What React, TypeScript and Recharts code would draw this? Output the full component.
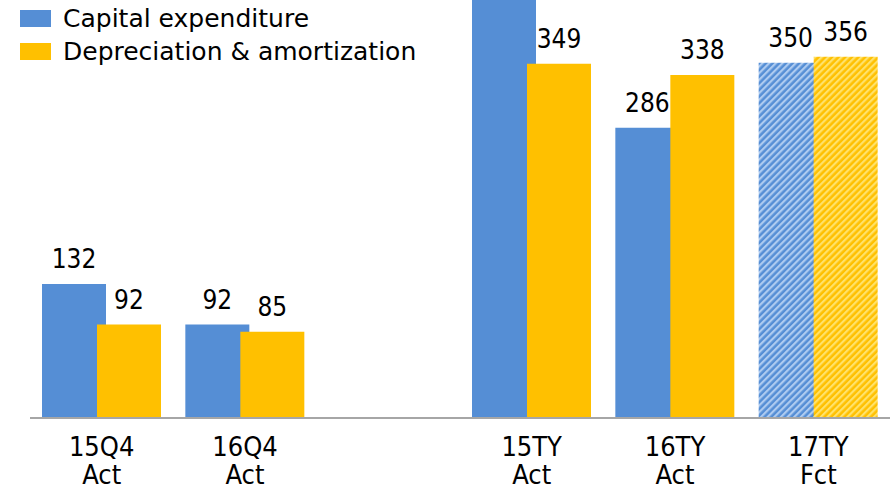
import { Bar, BarChart, Cell, LabelList, Legend, XAxis, YAxis } from 'recharts'

const categories = ['15Q4|Act', '16Q4|Act', '', '15TY|Act', '16TY|Act', '17TY|Fct']
const capex = [132, 92, null, 430, 286, 350]
const depreciation = [92, 85, null, 349, 338, 356]
const forecast = [false, false, false, false, false, true]

const Y_MAX = 411.8
const BLUE = '#558ed5'
const YELLOW = '#ffc000'

const legendItems = [
  { name: 'Capital expenditure', color: BLUE },
  { name: 'Depreciation & amortization', color: YELLOW },
]

const data = categories.map((name, i) => ({
  name,
  capex: capex[i],
  da: depreciation[i],
  fct: forecast[i],
}))

const renderLegend = () => (
  <div style={{ fontFamily: 'DejaVu Sans', fontSize: 25, color: '#000', lineHeight: 1 }}>
    {legendItems.map((item) => (
      <div key={item.name} style={{ display: 'flex', alignItems: 'center', height: 33 }}>
        <span style={{ width: 31, height: 17, background: item.color, marginRight: 12, display: 'inline-block' }} />
        <span>{item.name}</span>
      </div>
    ))}
  </div>
)

const CategoryTick = (props: any) => {
  const { x, y, payload } = props
  const [a, b] = String(payload.value).split('|')
  if (!a) return null
  return (
    <text x={x} y={y} textAnchor="middle" fill="#000" fontSize={27} fontFamily="DejaVu Sans Condensed">
      <tspan x={x} dy={30}>{a}</tspan>
      <tspan x={x} dy={28}>{b}</tspan>
    </text>
  )
}

// labels of bars that run off the top are cut in the original, so skip them
const ValueLabel = (props: any) => {
  const { x, y, width, value } = props
  if (value == null || value > Y_MAX) return null
  return (
    <text x={x + width / 2} y={y - 16} textAnchor="middle" fill="#000" fontSize={26} fontFamily="DejaVu Sans Condensed">
      {value}
    </text>
  )
}

export default function App() {
  return (
    <div style={{ position: 'absolute', left: 0, top: 0, width: 895, height: 489, background: '#fff' }}>
      <BarChart
        width={895}
        height={489}
        data={data}
        margin={{ top: 0, right: 5, left: 30, bottom: 0 }}
        barSize={64}
        barGap={-9}
      >
        <defs>
          <pattern id="blueStripe" patternUnits="userSpaceOnUse" width={4.7} height={10} patternTransform="rotate(45)">
            <rect width={4.7} height={10} fill={BLUE} />
            <rect width={2.2} height={10} fill="#aecbf0" />
          </pattern>
          <pattern id="yellowStripe" patternUnits="userSpaceOnUse" width={4.7} height={10} patternTransform="rotate(45)">
            <rect width={4.7} height={10} fill={YELLOW} />
            <rect width={2.2} height={10} fill="#ffe26a" />
          </pattern>
        </defs>
        <Legend
          content={renderLegend}
          layout="horizontal"
          verticalAlign="middle"
          align="center"
          wrapperStyle={{ top: 2, left: 20, width: 'auto' }}
        />
        <XAxis
          dataKey="name"
          interval={0}
          tickLine={false}
          axisLine={{ stroke: '#a6a6a6', strokeWidth: 2 }}
          tick={<CategoryTick />}
          height={71}
        />
        <YAxis hide domain={[0, Y_MAX]} allowDataOverflow />
        <Bar dataKey="capex" fill={BLUE} isAnimationActive={false}>
          {data.map((d, i) => (
            <Cell key={i} fill={d.fct ? 'url(#blueStripe)' : BLUE} />
          ))}
          <LabelList dataKey="capex" content={<ValueLabel />} />
        </Bar>
        <Bar dataKey="da" fill={YELLOW} isAnimationActive={false}>
          {data.map((d, i) => (
            <Cell key={i} fill={d.fct ? 'url(#yellowStripe)' : YELLOW} />
          ))}
          <LabelList dataKey="da" content={<ValueLabel />} />
        </Bar>
      </BarChart>
    </div>
  )
}
